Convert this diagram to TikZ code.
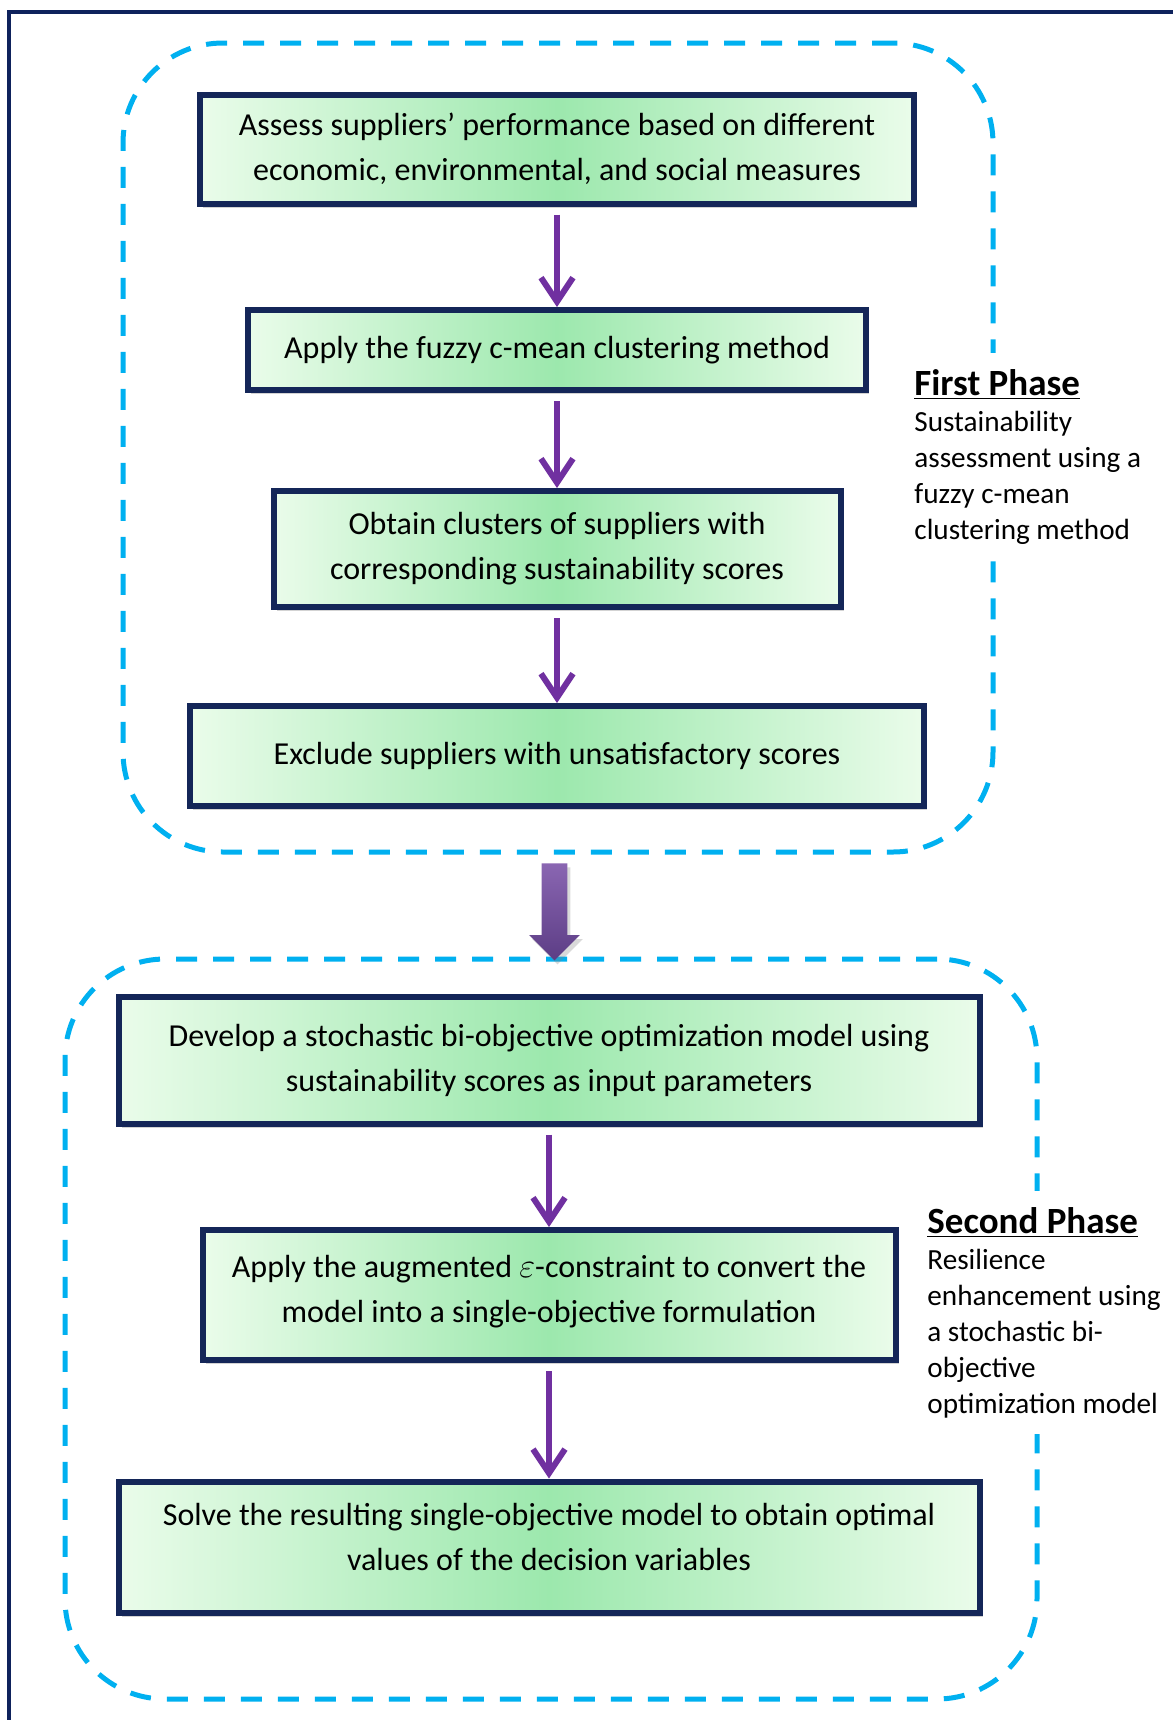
\documentclass[tikz,border=0pt]{standalone}
\usepackage{fontspec}
\setmainfont{Carlito}
\usepackage{tikz}
\usetikzlibrary{arrows.meta,shapes.arrows,shadows,calc}

\definecolor{framenavy}{RGB}{14,34,92}
\definecolor{boxnavy}{RGB}{20,38,88}
\definecolor{boxgreen}{RGB}{156,232,173}
\definecolor{boxpale}{RGB}{234,252,234}
\definecolor{phasecyan}{RGB}{0,176,240}
\definecolor{flowpurple}{RGB}{112,48,160}
\definecolor{linktop}{RGB}{138,102,178}
\definecolor{linkbottom}{RGB}{92,61,133}

\tikzset{
  stepbox/.style={draw=boxnavy, line width=3pt, left color=boxpale, right color=boxpale,
    middle color=boxgreen, align=center, inner sep=0pt, font=\fontsize{16}{22.5}\selectfont,
    drop shadow={shadow xshift=1.5pt, shadow yshift=-2pt, opacity=.35}},
  phaseframe/.style={draw=phasecyan, line width=2.5pt, dash pattern=on 10.5pt off 8pt,
    rounded corners=50pt, inner sep=0pt},
  phasenote/.style={fill=white, align=left, anchor=north west, inner xsep=4.5pt,
    inner ysep=8pt, font=\fontsize{14.6}{18}\selectfont},
  flowarrow/.style={draw=flowpurple, line width=3pt, -{Straight Barb[length=12pt,width=16pt]},
    shorten <=4pt},
  phaselink/.style={single arrow, shape border rotate=270, minimum height=48.5pt,
    inner sep=6.25pt, single arrow head extend=6.25pt,
    top color=linktop, bottom color=linkbottom,
    drop shadow={shadow xshift=1.5pt, shadow yshift=-2pt, opacity=.3}}
}

\begin{document}
\begin{tikzpicture}[x=0.5pt, y=-0.5pt]
\useasboundingbox (0,0) rectangle (1173,1720);
\draw[framenavy, line width=2pt] (9,1720) -- (9,12) -- (1173,12);

\node[phaseframe, minimum width=435pt, minimum height=404.5pt] (phase1) at (558,447.5) {};
\node[phaseframe, minimum width=486pt, minimum height=370pt] (phase2) at (551,1329) {};

\node[phasenote] (note1) at (905,353) {{\fontsize{18.5}{18}\selectfont\bfseries\underline{First Phase}}\\
  Sustainability\\assessment using a\\fuzzy c-mean\\clustering method};
\node[phasenote] (note2) at (918,1191) {{\fontsize{18.5}{18}\selectfont\bfseries\underline{Second Phase}}\\
  Resilience\\enhancement using\\a stochastic bi-\\objective\\optimization model};

\node[stepbox, minimum width=357pt, minimum height=54.5pt] (assess) at (557,149)
  {Assess suppliers’ performance based on different\\economic, environmental, and social measures};
\node[stepbox, minimum width=309pt, minimum height=40pt] (cluster) at (557,350)
  {Apply the fuzzy c-mean clustering method};
\node[stepbox, minimum width=283.5pt, minimum height=58pt] (obtain) at (557,549)
  {Obtain clusters of suppliers with\\corresponding sustainability scores};
\node[stepbox, minimum width=367pt, minimum height=50pt] (exclude) at (557,756)
  {Exclude suppliers with unsatisfactory scores};

\node[stepbox, minimum width=430.5pt, minimum height=63.5pt] (develop) at (549,1060)
  {Develop a stochastic bi-objective optimization model using\\sustainability scores as input parameters};
\node[stepbox, minimum width=346.5pt, minimum height=65pt] (augment) at (549,1295)
  {Apply the augmented $\varepsilon$-constraint to convert the\\model into a single-objective formulation\\[-16pt]};
\node[stepbox, minimum width=430.5pt, minimum height=65.5pt] (solve) at (549,1547)
  {Solve the resulting single-objective model to obtain optimal\\values of the decision variables\\[-12pt]};

\draw[flowarrow] (assess) -- (cluster);
\draw[flowarrow] (cluster) -- (obtain);
\draw[flowarrow] (obtain) -- (exclude);
\draw[flowarrow] (develop) -- (augment);
\draw[flowarrow] (augment) -- (solve);

\node[phaselink] (link) at ($(phase1.south)!0.5!(phase2.north)$) {};
\end{tikzpicture}
\end{document}
